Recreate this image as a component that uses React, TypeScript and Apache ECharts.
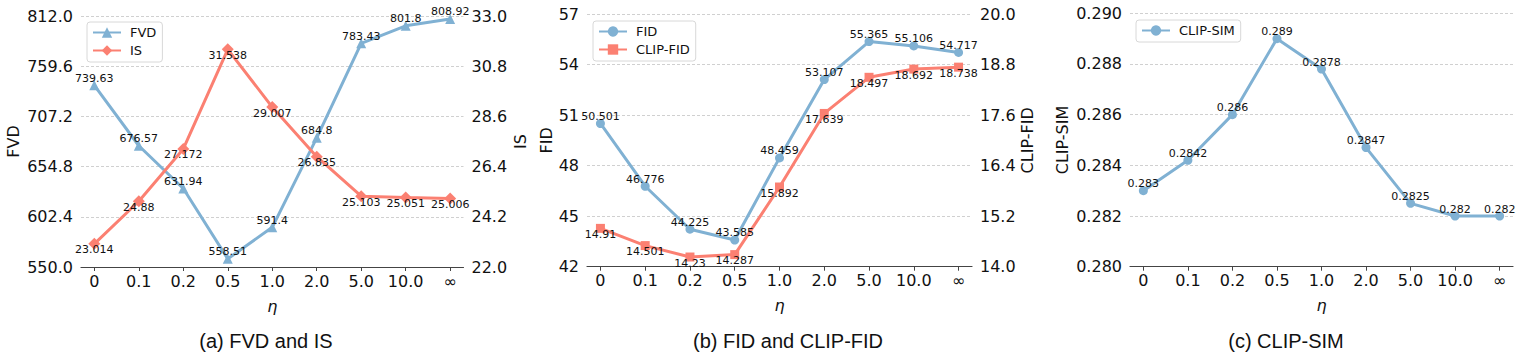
import React, { useEffect, useRef } from 'react';
import * as echarts from 'echarts';

const etaCategories = ['0', '0.1', '0.2', '0.5', '1.0', '2.0', '5.0', '10.0', '∞'];
const fvdValues = [739.63, 676.57, 631.94, 558.51, 591.4, 684.8, 783.43, 801.8, 808.92];
const isValues = [23.014, 24.88, 27.172, 31.538, 29.007, 26.835, 25.103, 25.051, 25.006];
const fidValues = [50.501, 46.776, 44.225, 43.585, 48.459, 53.107, 55.365, 55.106, 54.717];
const clipFidValues = [14.91, 14.501, 14.23, 14.287, 15.892, 17.639, 18.497, 18.692, 18.738];
const clipSimValues = [0.283, 0.2842, 0.286, 0.289, 0.2878, 0.2847, 0.2825, 0.282, 0.282];

const fvdAxis = { min: 550, max: 812, interval: 52.4, digits: 1 };
const isAxis = { min: 22, max: 33, interval: 2.2, digits: 1 };
const fidAxis = { min: 42, max: 57, interval: 3, digits: 0 };
const clipFidAxis = { min: 14, max: 20, interval: 1.2, digits: 1 };
const clipSimAxis = { min: 0.28, max: 0.29, interval: 0.002, digits: 3 };

const panelTitles = ['(a) FVD and IS', '(b) FID and CLIP-FID', '(c) CLIP-SIM'];

const BLUE = '#80b1d3';
const RED = '#fb8072';
const FONT = 'DejaVu Sans';
const INK = '#111';

const tickIdx = etaCategories.map((_, i) => i);
const toPairs = (vals: number[]) => vals.map((v, i) => [i, v]);

function makeX(gridIndex: number) {
  return {
    type: 'value',
    gridIndex,
    min: -0.3,
    max: 8.3,
    axisLine: { show: true, onZero: false, lineStyle: { color: '#444', width: 1.2 } },
    axisTick: { show: true, customValues: tickIdx, length: 4, lineStyle: { color: '#444', width: 1 } },
    axisLabel: {
      customValues: tickIdx,
      formatter: (v: number) => etaCategories[Math.round(v)],
      fontSize: 16,
      fontFamily: FONT,
      color: INK,
      margin: 6,
    },
    splitLine: { show: false },
    name: 'η',
    nameLocation: 'middle',
    nameGap: 31,
    nameTextStyle: { fontSize: 16, fontFamily: FONT, fontStyle: 'italic', color: INK },
  };
}

function makeY(gridIndex: number, ax: any, name: string, position: string, nameGap: number, grid: boolean) {
  return {
    type: 'value',
    gridIndex,
    position,
    min: ax.min,
    max: ax.max,
    interval: ax.interval,
    axisLine: { show: false },
    axisTick: { show: false },
    axisLabel: {
      formatter: (v: number) => v.toFixed(ax.digits),
      fontSize: 16,
      fontFamily: FONT,
      color: INK,
      margin: 8,
    },
    splitLine: { show: grid, lineStyle: { type: [3, 2], color: '#c4c4c4', width: 0.8 } },
    name,
    nameLocation: 'middle',
    nameRotate: 90,
    nameGap,
    nameTextStyle: { fontSize: 16, fontFamily: FONT, color: INK },
  };
}

function makeSeries(name: string, vals: number[], xi: number, yi: number, color: string, symbol: string, size: number, dy: number) {
  return {
    type: 'line',
    name,
    xAxisIndex: xi,
    yAxisIndex: yi,
    data: toPairs(vals),
    symbol,
    symbolSize: size,
    lineStyle: { color, width: 3 },
    itemStyle: { color },
    label: {
      show: true,
      position: 'inside',
      offset: [0, dy],
      fontSize: 11,
      fontFamily: FONT,
      color: INK,
      textBorderWidth: 0,
      formatter: (p: any) => String(p.value[1]),
    },
    emphasis: { disabled: true },
  };
}

function makeLegend(names: string[], left: number, top: number) {
  return {
    data: names,
    orient: 'vertical',
    left,
    top,
    itemWidth: 28,
    itemHeight: 13,
    itemGap: 5,
    padding: [4, 6, 5, 5],
    borderColor: '#d8d8d8',
    borderWidth: 1,
    borderRadius: 3,
    backgroundColor: 'rgba(255,255,255,0.8)',
    textStyle: { fontSize: 13, fontFamily: FONT, color: INK, padding: [0, 0, 0, 4] },
  };
}

export default function App() {
  const ref = useRef<HTMLDivElement>(null);
  useEffect(() => {
    document.body.style.margin = '0';
    const chart = echarts.init(ref.current!, undefined, { renderer: 'svg' });
    const titleStyle = { fontSize: 20, fontFamily: 'Liberation Sans', fontWeight: 'normal', color: INK };
    chart.setOption({
      animation: false,
      backgroundColor: '#fff',
      title: [
        { text: panelTitles[0], left: 266, top: 331, textAlign: 'center', padding: 0, textStyle: titleStyle },
        { text: panelTitles[1], left: 788, top: 331, textAlign: 'center', padding: 0, textStyle: titleStyle },
        { text: panelTitles[2], left: 1286, top: 331, textAlign: 'center', padding: 0, textStyle: titleStyle },
      ],
      grid: [
        { left: 81, top: 16, width: 382.5, height: 251 },
        { left: 587, top: 14, width: 385, height: 252.7 },
        { left: 1130, top: 13.3, width: 383, height: 253.4 },
      ],
      legend: [
        makeLegend(['FVD', 'IS'], 87, 22),
        makeLegend(['FID', 'CLIP-FID'], 593, 21),
        makeLegend(['CLIP-SIM'], 1136, 20),
      ],
      xAxis: [makeX(0), makeX(1), makeX(2)],
      yAxis: [
        makeY(0, fvdAxis, 'FVD', 'left', 60, true),
        makeY(0, isAxis, 'IS', 'right', 49, false),
        makeY(1, fidAxis, 'FID', 'left', 33, true),
        makeY(1, clipFidAxis, 'CLIP-FID', 'right', 47, false),
        makeY(2, clipSimAxis, 'CLIP-SIM', 'left', 60, true),
      ],
      series: [
        makeSeries('FVD', fvdValues, 0, 0, BLUE, 'triangle', 10, -7),
        makeSeries('IS', isValues, 0, 1, RED, 'diamond', 12, 6),
        makeSeries('FID', fidValues, 1, 2, BLUE, 'circle', 9, -7),
        makeSeries('CLIP-FID', clipFidValues, 1, 3, RED, 'rect', 9, 6),
        makeSeries('CLIP-SIM', clipSimValues, 2, 4, BLUE, 'circle', 9, -7),
      ],
    });
    return () => chart.dispose();
  }, []);
  return <div ref={ref} style={{ width: 1525, height: 360 }} />;
}
